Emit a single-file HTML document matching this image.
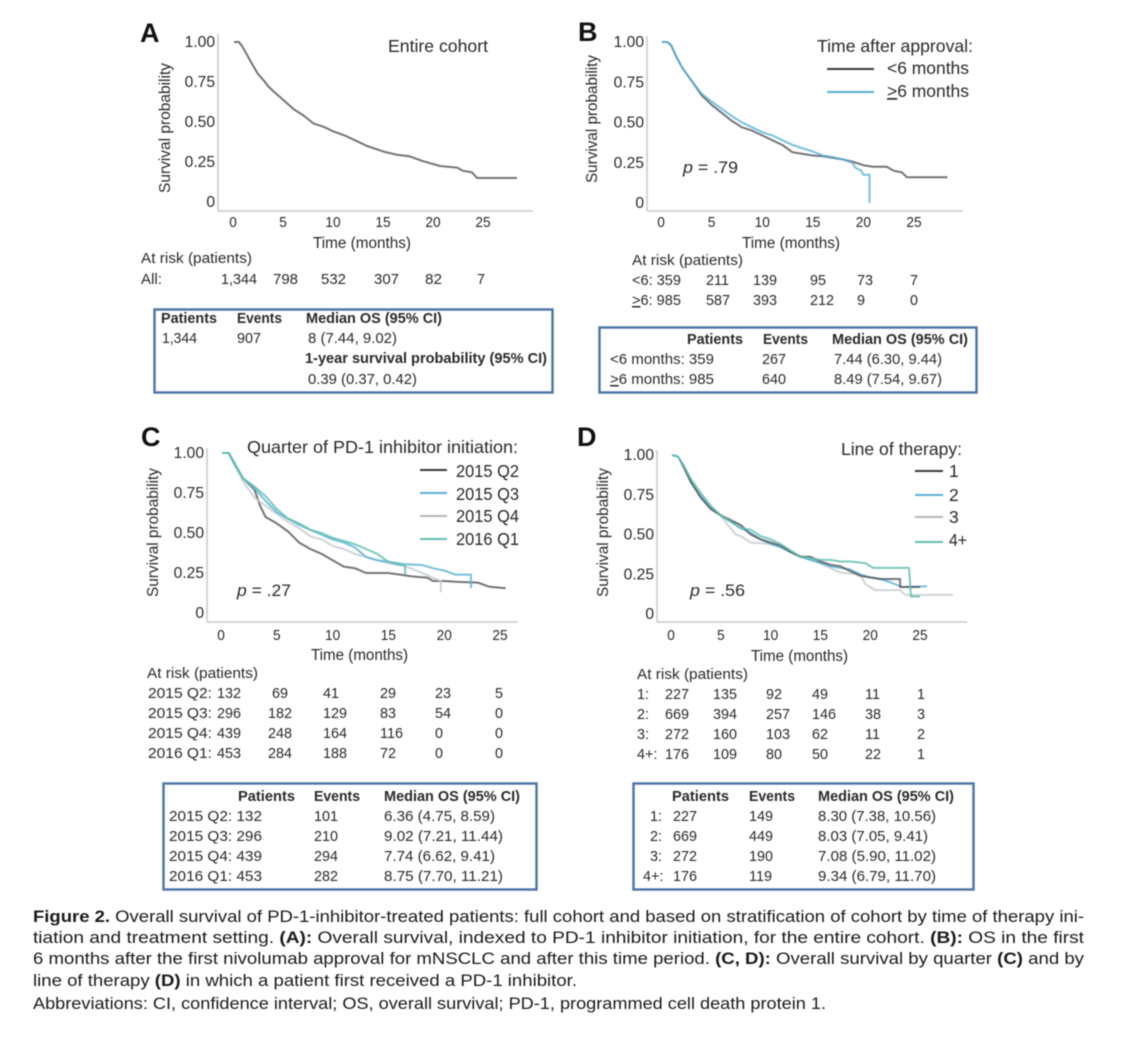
<!DOCTYPE html>
<html lang="en">
<head>
<meta charset="utf-8">
<title>Figure 2 - Overall survival</title>
<style>
html,body{margin:0;padding:0;background:#fff;}
svg{display:block;filter:blur(0.42px);}
text{font-family:"Liberation Sans",sans-serif;font-size:15px;fill:#2a2a2a;}
.b{font-weight:bold;}
.pl{font-size:27px;font-weight:bold;fill:#111;}
.leg{font-size:17.5px;}
.cap{font-size:16.8px;fill:#1a1a1a;}
.ax{font-size:15.5px;}
.p{font-size:16.5px;}
.box{fill:none;stroke:#4b74a6;stroke-width:2.4;}
</style>
</head>
<body>
<svg id="fig" xmlns="http://www.w3.org/2000/svg" width="1125" height="1048" viewBox="0 0 1125 1048">
<rect width="1125" height="1048" fill="#fff"/>

<g id="panelA">
<text class="pl" x="140" y="42">A</text>
<text class="leg" x="388" y="52" textLength="100">Entire cohort</text>
<text class="ax" x="313" y="248" textLength="98">Time (months)</text>
<text class="ax" transform="translate(170,193) rotate(-90)" textLength="130">Survival probability</text>
</g>
<g>
<text x="141" y="263" textLength="111">At risk (patients)</text>
<text x="141" y="284" textLength="21">All:</text>
<text x="221" y="284" textLength="36">1,344</text>
<text x="273" y="284" textLength="25">798</text>
<text x="321" y="284" textLength="25">532</text>
<text x="374" y="284" textLength="25">307</text>
<text x="425" y="284" textLength="17">82</text>
<text x="477" y="284">7</text>
</g>
<g>
<rect class="box" x="154.500" y="309.500" width="398" height="83"/>
<text class="b" x="161" y="323" textLength="56">Patients</text>
<text class="b" x="237" y="323" textLength="45">Events</text>
<text class="b" x="306" y="323" textLength="136">Median OS (95% CI)</text>
<text x="162" y="343" textLength="35">1,344</text>
<text x="237" y="343" textLength="24">907</text>
<text x="308" y="343" textLength="89">8 (7.44, 9.02)</text>
<text class="b" x="305" y="363" textLength="242">1-year survival probability (95% CI)</text>
<text x="308" y="384" textLength="109">0.39 (0.37, 0.42)</text>
</g>

<g id="panelB">
<text class="pl" x="578" y="41">B</text>
<text class="leg" x="817" y="52" textLength="156">Time after approval:</text>
<line x1="827" y1="69" x2="874" y2="69" stroke="#3a3a3e" stroke-width="2"/>
<text class="leg" x="887" y="74" textLength="82">&lt;6 months</text>
<line x1="827" y1="92" x2="874" y2="92" stroke="#5ab2d8" stroke-width="2"/>
<text class="leg" x="887" y="97" textLength="82"><tspan text-decoration="underline">&gt;</tspan>6 months</text>
<text class="p" x="683" y="173" textLength="55"><tspan font-style="italic">p</tspan> = .79</text>
<text class="ax" x="742" y="248" textLength="98">Time (months)</text>
<text class="ax" transform="translate(597,183) rotate(-90)" textLength="128">Survival probability</text>
</g>
<g>
<text x="632" y="265" textLength="111">At risk (patients)</text>
<text x="632" y="285" textLength="49">&lt;6: 359</text>
<text x="706" y="285">211</text>
<text x="753" y="285">139</text>
<text x="810" y="285">95</text>
<text x="857" y="285">73</text>
<text x="910" y="285">7</text>
<text x="632" y="305" textLength="49"><tspan text-decoration="underline">&gt;</tspan>6: 985</text>
<text x="706" y="305">587</text>
<text x="753" y="305">393</text>
<text x="810" y="305">212</text>
<text x="857" y="305">9</text>
<text x="910" y="305">0</text>
</g>
<g>
<rect class="box" x="599.500" y="327.500" width="377" height="65"/>
<text class="b" x="687" y="344" textLength="56">Patients</text>
<text class="b" x="763" y="344" textLength="45">Events</text>
<text class="b" x="832" y="344" textLength="136">Median OS (95% CI)</text>
<text x="610" y="364" textLength="104">&lt;6 months: 359</text>
<text x="762" y="364">267</text>
<text x="834" y="364" textLength="108">7.44 (6.30, 9.44)</text>
<text x="610" y="384" textLength="104"><tspan text-decoration="underline">&gt;</tspan>6 months: 985</text>
<text x="762" y="384">640</text>
<text x="834" y="384" textLength="108">8.49 (7.54, 9.67)</text>
</g>

<g id="panelC">
<text class="pl" x="141" y="446">C</text>
<text class="leg" x="247" y="453" textLength="271">Quarter of PD-1 inhibitor initiation:</text>
<line x1="420" y1="470" x2="447" y2="470" stroke="#3a3a3e" stroke-width="2"/>
<text class="leg" x="456" y="477" textLength="63">2015 Q2</text>
<line x1="420" y1="493" x2="447" y2="493" stroke="#5ab2d8" stroke-width="2"/>
<text class="leg" x="456" y="500" textLength="63">2015 Q3</text>
<line x1="420" y1="516" x2="447" y2="516" stroke="#b4b6ba" stroke-width="2"/>
<text class="leg" x="456" y="522" textLength="63">2015 Q4</text>
<line x1="420" y1="539" x2="447" y2="539" stroke="#62c0b2" stroke-width="2"/>
<text class="leg" x="456" y="545" textLength="63">2016 Q1</text>
<text class="p" x="237" y="596" textLength="54"><tspan font-style="italic">p</tspan> = .27</text>
<text class="ax" x="311" y="660" textLength="97">Time (months)</text>
<text class="ax" transform="translate(158,597) rotate(-90)" textLength="129">Survival probability</text>
</g>
<g>
<text x="147" y="678" textLength="111">At risk (patients)</text>
<text x="148" y="698" textLength="64">2015 Q2:</text><text x="217" y="698" textLength="24">132</text><text x="272" y="698">69</text><text x="323" y="698">41</text><text x="380" y="698">29</text><text x="435" y="698">23</text><text x="495" y="698">5</text>
<text x="148" y="718" textLength="64">2015 Q3:</text><text x="217" y="718" textLength="24">296</text><text x="268" y="718">182</text><text x="323" y="718">129</text><text x="380" y="718">83</text><text x="435" y="718">54</text><text x="495" y="718">0</text>
<text x="148" y="738" textLength="64">2015 Q4:</text><text x="217" y="738" textLength="24">439</text><text x="268" y="738">248</text><text x="323" y="738">164</text><text x="380" y="738">116</text><text x="435" y="738">0</text><text x="495" y="738">0</text>
<text x="148" y="758" textLength="64">2016 Q1:</text><text x="217" y="758" textLength="24">453</text><text x="268" y="758">284</text><text x="323" y="758">188</text><text x="380" y="758">72</text><text x="435" y="758">0</text><text x="495" y="758">0</text>
</g>
<g>
<rect class="box" x="163.500" y="783.500" width="373" height="106"/>
<text class="b" x="238" y="801" textLength="57">Patients</text>
<text class="b" x="314" y="801" textLength="46">Events</text>
<text class="b" x="384" y="801" textLength="136">Median OS (95% CI)</text>
<text x="169" y="821" textLength="93">2015 Q2: 132</text><text x="314" y="821">101</text><text x="384" y="821" textLength="111">6.36 (4.75, 8.59)</text>
<text x="169" y="841" textLength="93">2015 Q3: 296</text><text x="314" y="841">210</text><text x="384" y="841" textLength="119">9.02 (7.21, 11.44)</text>
<text x="169" y="861" textLength="93">2015 Q4: 439</text><text x="314" y="861">294</text><text x="384" y="861" textLength="111">7.74 (6.62, 9.41)</text>
<text x="169" y="881" textLength="93">2016 Q1: 453</text><text x="314" y="881">282</text><text x="384" y="881" textLength="119">8.75 (7.70, 11.21)</text>
</g>

<g id="panelD">
<text class="pl" x="577" y="446">D</text>
<text class="leg" x="841" y="455" textLength="121">Line of therapy:</text>
<line x1="915" y1="471" x2="943" y2="471" stroke="#3a3a3e" stroke-width="2"/>
<text class="leg" x="949" y="477">1</text>
<line x1="915" y1="495" x2="943" y2="495" stroke="#5ab2d8" stroke-width="2"/>
<text class="leg" x="949" y="501">2</text>
<line x1="915" y1="517" x2="943" y2="517" stroke="#b4b6ba" stroke-width="2"/>
<text class="leg" x="949" y="523">3</text>
<line x1="915" y1="542" x2="943" y2="542" stroke="#62c0b2" stroke-width="2"/>
<text class="leg" x="949" y="546" textLength="18">4+</text>
<text class="p" x="690" y="596" textLength="55"><tspan font-style="italic">p</tspan> = .56</text>
<text class="ax" x="751" y="661" textLength="97">Time (months)</text>
<text class="ax" transform="translate(608,597) rotate(-90)" textLength="129">Survival probability</text>
</g>
<g>
<text x="637" y="679" textLength="111">At risk (patients)</text>
<text x="637" y="699">1:</text><text x="665" y="699">227</text><text x="713" y="699">135</text><text x="766" y="699">92</text><text x="812" y="699">49</text><text x="865" y="699">11</text><text x="917" y="699">1</text>
<text x="637" y="719">2:</text><text x="665" y="719">669</text><text x="713" y="719">394</text><text x="766" y="719">257</text><text x="812" y="719">146</text><text x="865" y="719">38</text><text x="917" y="719">3</text>
<text x="637" y="739">3:</text><text x="665" y="739">272</text><text x="713" y="739">160</text><text x="766" y="739">103</text><text x="812" y="739">62</text><text x="865" y="739">11</text><text x="917" y="739">2</text>
<text x="637" y="759">4+:</text><text x="665" y="759">176</text><text x="713" y="759">109</text><text x="766" y="759">80</text><text x="812" y="759">50</text><text x="865" y="759">22</text><text x="917" y="759">1</text>
</g>
<g>
<rect class="box" x="633.500" y="783.500" width="340" height="106"/>
<text class="b" x="672" y="801" textLength="57">Patients</text>
<text class="b" x="749" y="801" textLength="46">Events</text>
<text class="b" x="818" y="801" textLength="136">Median OS (95% CI)</text>
<text x="650" y="821">1:</text><text x="673" y="821">227</text><text x="749" y="821">149</text><text x="818" y="821" textLength="118">8.30 (7.38, 10.56)</text>
<text x="650" y="841">2:</text><text x="673" y="841">669</text><text x="749" y="841">449</text><text x="818" y="841" textLength="110">8.03 (7.05, 9.41)</text>
<text x="650" y="861">3:</text><text x="673" y="861">272</text><text x="749" y="861">190</text><text x="818" y="861" textLength="118">7.08 (5.90, 11.02)</text>
<text x="643" y="881">4+:</text><text x="673" y="881">176</text><text x="749" y="881">119</text><text x="818" y="881" textLength="118">9.34 (6.79, 11.70)</text>
</g>

<g>
<text class="cap" x="33" y="922" textLength="1051"><tspan font-weight="bold">Figure 2.</tspan> Overall survival of PD-1-inhibitor-treated patients: full cohort and based on stratification of cohort by time of therapy ini-</text>
<text class="cap" x="33" y="943" textLength="1051">tiation and treatment setting. <tspan font-weight="bold">(A):</tspan> Overall survival, indexed to PD-1 inhibitor initiation, for the entire cohort. <tspan font-weight="bold">(B):</tspan> OS in the first</text>
<text class="cap" x="33" y="964" textLength="1051">6 months after the first nivolumab approval for mNSCLC and after this time period. <tspan font-weight="bold">(C, D):</tspan> Overall survival by quarter <tspan font-weight="bold">(C)</tspan> and by</text>
<text class="cap" x="33" y="986" textLength="544">line of therapy <tspan font-weight="bold">(D)</tspan> in which a patient first received a PD-1 inhibitor.</text>
<text class="cap" x="33" y="1009" textLength="793">Abbreviations: CI, confidence interval; OS, overall survival; PD-1, programmed cell death protein 1.</text>
</g>
</svg>

<script>
// Axis tick values and labels shared by all panels
const xTickValues = [0, 5, 10, 15, 20, 25];
const yTickValues = [1, 0.75, 0.5, 0.25, 0];
const yTickLabels = ['1.00', '0.75', '0.50', '0.25', '0'];

// Panel A - entire cohort
const aAllTime = [0.1,0.6,1,1.4,1.7,2.07,2.5,3.07,3.5,4.07,5,6.07,7.07,8.07,9.07,10.07,11.2,12.4,13.4,15.07,16.4,17.7,19,20.7,22.4,23,23.9,24.4,28.4];
const aAllSurv = [1,1,0.965,0.92,0.885,0.845,0.80,0.76,0.725,0.69,0.64,0.58,0.54,0.49,0.47,0.44,0.415,0.38,0.35,0.315,0.295,0.285,0.255,0.225,0.215,0.195,0.185,0.15,0.15];

// Panel B - time after approval
const bEarlyTime = [0.1,0.6,1,1.5,2.1,3,4,5,6,7,8,9,10,11,12,13,14,15,16,17,18,19,20,21,22.3,23,23.8,24.3,28.3];
const bEarlySurv = [1,1,0.98,0.91,0.84,0.76,0.67,0.61,0.56,0.51,0.47,0.45,0.42,0.39,0.36,0.315,0.305,0.295,0.29,0.28,0.27,0.255,0.235,0.225,0.225,0.2,0.19,0.16,0.16];
const bLateTime = [0.1,0.6,1,1.5,2.1,3,4,5,6,7,8,9,10,11,12,13,14,15,16,17,18,18.9,19.2,19.8,20,20.6,20.6];
const bLateSurv = [1,1,0.98,0.91,0.84,0.76,0.68,0.63,0.585,0.54,0.5,0.47,0.44,0.42,0.39,0.36,0.34,0.32,0.295,0.285,0.27,0.25,0.22,0.2,0.175,0.175,0];

// Panel C - quarter of initiation
const cQ2Time = [0.1,0.7,1.2,2,3,3.5,4,5,6,7,8,9,10,11,12,13,15,16.5,17,18.5,19,20,21,23,24,25.5];
const cQ2Surv = [1,1,0.93,0.84,0.77,0.67,0.6,0.56,0.51,0.44,0.4,0.37,0.33,0.29,0.28,0.25,0.25,0.235,0.23,0.22,0.2,0.2,0.195,0.19,0.165,0.155];
const cQ3Time = [0.1,0.7,1.2,2,3,4,5,6,7,8,9,10,11,12,13,14,15,16.5,18,19,20,21,22.4,22.4];
const cQ3Surv = [1,1,0.93,0.84,0.78,0.7,0.63,0.59,0.55,0.52,0.49,0.46,0.44,0.41,0.35,0.33,0.32,0.305,0.3,0.28,0.265,0.24,0.24,0.155];
const cQ4Time = [0.1,0.7,1.2,2,3,4,5,6,7,8,9,10,11,12,13,14,15,16,17,18,19,19.7,19.7];
const cQ4Surv = [1,1,0.93,0.82,0.72,0.67,0.62,0.57,0.53,0.48,0.46,0.42,0.4,0.37,0.35,0.33,0.31,0.3,0.28,0.25,0.22,0.2,0.13];
const cQ1Time = [0.1,0.7,1.2,2,3,4,5,6,7,8,9,10,11,12,13,14,15,16,16.5,16.5];
const cQ1Surv = [1,1,0.94,0.84,0.79,0.73,0.65,0.59,0.56,0.52,0.5,0.47,0.45,0.43,0.4,0.37,0.32,0.3,0.3,0.24];

// Panel D - line of therapy
const dL1Time = [0.9,2,3,4,5,6,7,8,9,10,11,12,13,14,15,16,17,18,19,20,21,23,23,25];
const dL1Surv = [0.97,0.83,0.73,0.66,0.62,0.59,0.56,0.5,0.47,0.45,0.43,0.39,0.36,0.36,0.33,0.31,0.3,0.27,0.24,0.23,0.22,0.22,0.17,0.17];
const dL2Time = [0.1,0.7,1.3,2,3,4,5,6,7,8,9,10,11,12,13,14,15,16,17,18,19,20,21,22,23.2,25.7];
const dL2Surv = [1,0.99,0.93,0.83,0.74,0.67,0.62,0.58,0.54,0.51,0.47,0.44,0.42,0.39,0.36,0.34,0.32,0.3,0.29,0.28,0.25,0.23,0.22,0.2,0.17,0.175];
const dL3Time = [0.1,0.7,1.3,2,3,4,5,5.7,6.5,7,8,10,11,12,14,15,16,17,19,19.5,20,20.5,23,23.5,28.3];
const dL3Surv = [1,0.99,0.93,0.83,0.74,0.67,0.62,0.56,0.5,0.49,0.45,0.44,0.42,0.39,0.34,0.32,0.29,0.26,0.25,0.19,0.17,0.15,0.15,0.12,0.12];
const dL4Time = [0.2,0.7,1.3,2,3,4,5,6,7,8,9,10,11,12,13,14,15,16,17,18,19.5,20.3,23.9,24.1,25];
const dL4Surv = [1,0.99,0.93,0.85,0.76,0.68,0.62,0.58,0.54,0.53,0.49,0.47,0.44,0.4,0.36,0.35,0.34,0.34,0.33,0.33,0.32,0.29,0.29,0.11,0.11];

const SVG_NS = 'http://www.w3.org/2000/svg';
const DARK = '#55575c', BLUE = '#5ab2d8', GRAY = '#c6cad0', TEAL = '#5fbdb0';

// Narrow plain table numbers before the charts are drawn
document.querySelectorAll('#fig text:not([textLength]):not([class])').forEach(el => {
  el.setAttribute('textLength', (el.getComputedTextLength() * 0.96).toFixed(1));
});

function drawPanel(groupId, geom, series) {
  const g = document.getElementById(groupId);
  const xScale = t => geom.x0 + t * geom.xPerMonth;
  const yScale = s => geom.y0 - s * (geom.y0 - geom.y1);

  const yAxis = document.createElementNS(SVG_NS, 'line');
  yAxis.setAttribute('x1', geom.axisX); yAxis.setAttribute('x2', geom.axisX);
  yAxis.setAttribute('y1', geom.axisTop); yAxis.setAttribute('y2', geom.axisY);
  yAxis.setAttribute('stroke', '#c9c9c9'); yAxis.setAttribute('stroke-width', '1.5');
  
  
  g.appendChild(yAxis);

  const xAxis = document.createElementNS(SVG_NS, 'line');
  xAxis.setAttribute('x1', geom.axisX); xAxis.setAttribute('x2', geom.axisRight);
  xAxis.setAttribute('y1', geom.axisY); xAxis.setAttribute('y2', geom.axisY);
  xAxis.setAttribute('stroke', '#c9c9c9'); xAxis.setAttribute('stroke-width', '1.5');
  
  
  g.appendChild(xAxis);

  yTickValues.forEach((v, i) => {
    const tick = document.createElementNS(SVG_NS, 'text');
    tick.setAttribute('x', geom.axisX - 3);
    tick.setAttribute('y', yScale(v) + 5);
    tick.setAttribute('text-anchor', 'end');
    tick.setAttribute('style', 'font-size:15.6px');
    
    
    tick.textContent = yTickLabels[i];
    g.appendChild(tick);
  });

  xTickValues.forEach(v => {
    const tick = document.createElementNS(SVG_NS, 'text');
    tick.setAttribute('x', xScale(v));
    tick.setAttribute('y', geom.xTickBaseline);
    tick.setAttribute('text-anchor', 'middle');
    tick.setAttribute('style', 'font-size:15px');
    tick.setAttribute('textLength', String(v).length * 7.6);
    
    
    tick.textContent = String(v);
    g.appendChild(tick);
  });

  series.forEach(s => {
    const d = s.time.map((t, i) => (i ? 'L' : 'M') + xScale(t).toFixed(1) + ' ' + yScale(s.surv[i]).toFixed(1)).join(' ');
    const path = document.createElementNS(SVG_NS, 'path');
    path.setAttribute('d', d);
    path.setAttribute('fill', 'none');
    path.setAttribute('stroke', s.color);
    path.setAttribute('stroke-width', '2');
    path.setAttribute('stroke-opacity', '0.82');
    path.setAttribute('stroke-linejoin', 'round');
    
    
    g.appendChild(path);
  });
}

drawPanel('panelA', {x0:233, xPerMonth:10, y0:202, y1:42, axisX:218, axisTop:34, axisY:211, axisRight:533, xTickBaseline:227}, [
  {name:'curve-entire-cohort', time:aAllTime, surv:aAllSurv, color:DARK}
]);
drawPanel('panelB', {x0:661, xPerMonth:10.12, y0:203, y1:42, axisX:647, axisTop:36, axisY:211, axisRight:963, xTickBaseline:227}, [
  {name:'curve-under-6-months', time:bEarlyTime, surv:bEarlySurv, color:DARK},
  {name:'curve-over-6-months', time:bLateTime, surv:bLateSurv, color:BLUE}
]);
drawPanel('panelC', {x0:221, xPerMonth:11.16, y0:613, y1:453, axisX:207, axisTop:448, axisY:622, axisRight:518, xTickBaseline:640}, [
  {name:'curve-2015-q2', time:cQ2Time, surv:cQ2Surv, color:DARK},
  {name:'curve-2015-q4', time:cQ4Time, surv:cQ4Surv, color:GRAY},
  {name:'curve-2015-q3', time:cQ3Time, surv:cQ3Surv, color:BLUE},
  {name:'curve-2016-q1', time:cQ1Time, surv:cQ1Surv, color:TEAL}
]);
drawPanel('panelD', {x0:671, xPerMonth:9.96, y0:614, y1:455, axisX:657, axisTop:450, axisY:622, axisRight:967, xTickBaseline:640}, [
  {name:'curve-line-3', time:dL3Time, surv:dL3Surv, color:GRAY},
  {name:'curve-line-2', time:dL2Time, surv:dL2Surv, color:BLUE},
  {name:'curve-line-1', time:dL1Time, surv:dL1Surv, color:DARK},
  {name:'curve-line-4-plus', time:dL4Time, surv:dL4Surv, color:TEAL}
]);

document.querySelectorAll('text[textLength]').forEach(el => {
  el.setAttribute('lengthAdjust', 'spacingAndGlyphs');
});
</script>
</body>
</html>
